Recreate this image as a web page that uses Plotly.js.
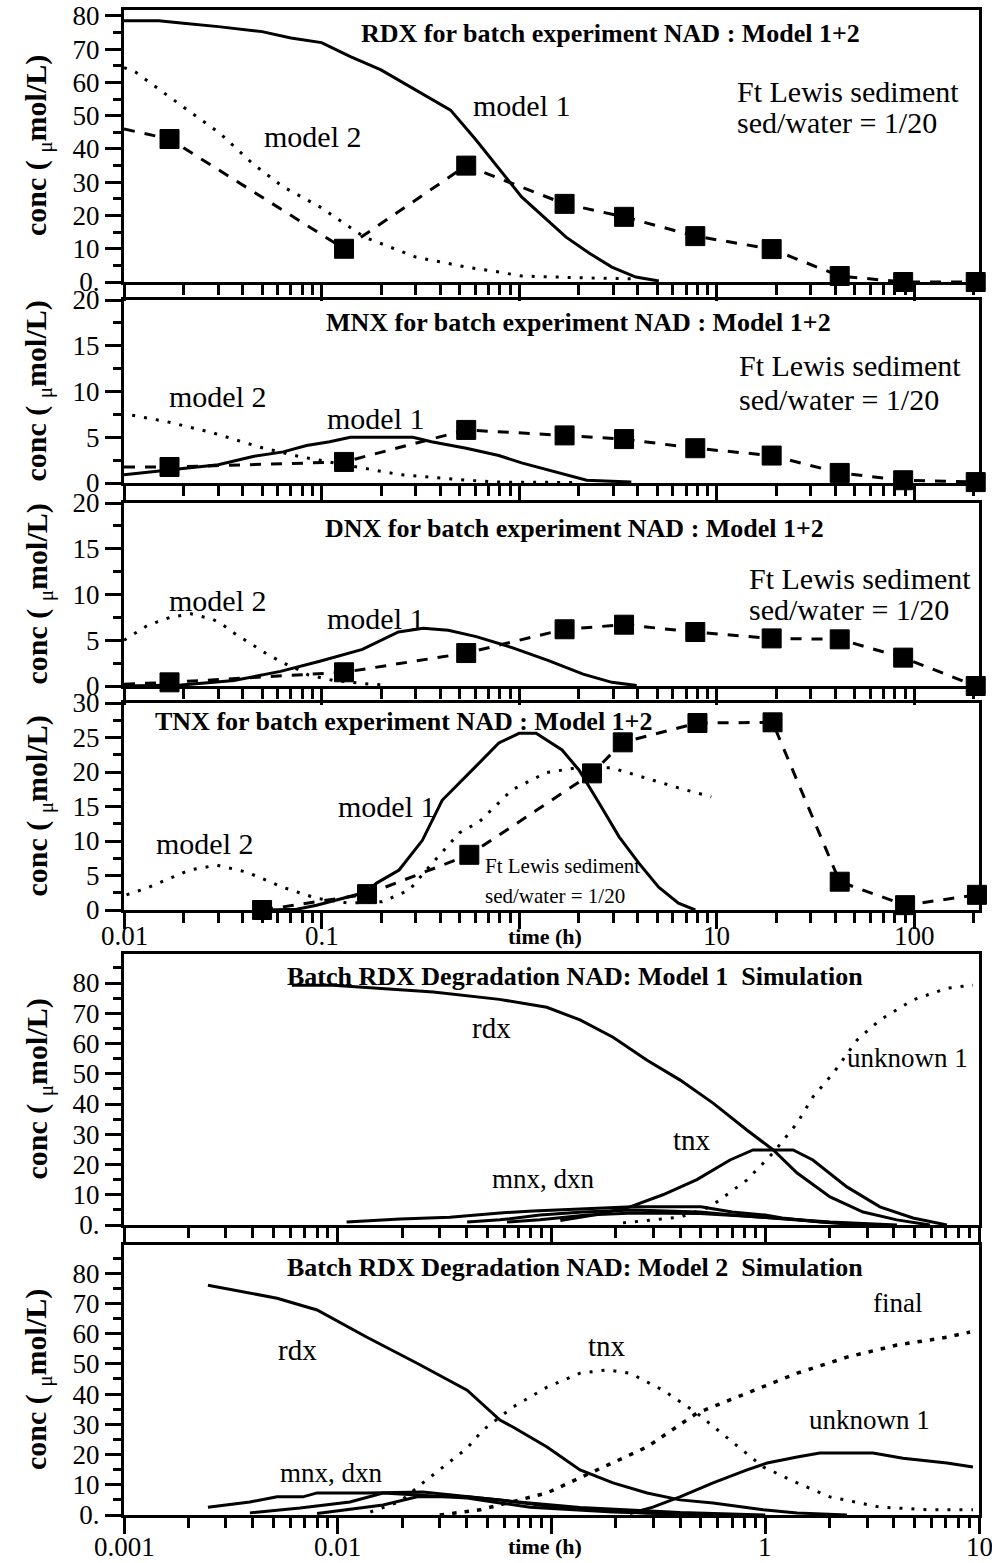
<!DOCTYPE html>
<html><head><meta charset="utf-8">
<script src="https://cdn.plot.ly/plotly-3.0.1.min.js"></script>
<style>body{margin:0;background:#fff}#chart{width:992px;height:1563px}</style>
</head><body><div id="chart"></div>
<script>
// ---------- observed data (squares), times in hours ----------
const obsTime = [0.01, 0.017, 0.13, 0.54, 1.7, 3.4, 7.8, 19, 42, 88, 205];
const rdxObs  = [46, 43, 10, 35, 23.5, 19.6, 13.8, 9.9, 1.8, 0, 0];
const mnxObs  = [1.75, 1.75, 2.3, 5.8, 5.2, 4.8, 3.8, 3.0, 1.1, 0.3, 0.1];
const dnxObs  = [0.2, 0.4, 1.5, 3.6, 6.2, 6.7, 5.9, 5.2, 5.1, 3.1, 0];
const tnxObsTime = [0.05, 0.17, 0.56, 2.34, 3.35, 8.0, 19.2, 42, 90, 208];
const tnxObs     = [0, 2.3, 8.0, 19.8, 24.3, 27.1, 27.2, 4.1, 0.7, 2.2];

// ---------- RDX models ----------
const rdxM1T = [0.01, 0.015, 0.02, 0.03, 0.05, 0.07, 0.1, 0.14, 0.2, 0.3, 0.45, 0.6, 0.77, 1.03, 1.73, 2.26, 2.95, 3.9, 5.1];
const rdxM1  = [78.6, 78.6, 77.8, 76.8, 75.3, 73.4, 72, 67.8, 63.8, 57.7, 51.7, 43, 35, 25.6, 13.5, 8.7, 4.5, 1.5, 0.3];
const rdxM2T = [0.01, 0.0114, 0.0165, 0.0305, 0.045, 0.064, 0.098, 0.165, 0.3, 0.54, 0.79, 1.03, 2.26, 4.0];
const rdxM2  = [64.5, 63.2, 56.2, 44.8, 35.5, 28.6, 22.6, 13.5, 7.5, 4.5, 3.0, 1.8, 1.2, 0.9];
// ---------- MNX models ----------
const mnxM1T = [0.01, 0.017, 0.03, 0.045, 0.064, 0.084, 0.11, 0.14, 0.29, 0.36, 0.54, 0.79, 1.03, 2.2, 3.7];
const mnxM1  = [0.9, 1.4, 2.0, 2.9, 3.4, 4.1, 4.5, 5.0, 5.0, 4.5, 3.8, 3.0, 2.2, 0.3, 0.1];
const mnxM2T = [0.011, 0.0165, 0.028, 0.049, 0.077, 0.17, 0.25, 0.54, 0.8, 2.0];
const mnxM2  = [7.4, 6.7, 5.5, 3.9, 2.9, 1.6, 0.9, 0.3, 0.1, 0.05];
// ---------- DNX models ----------
const dnxM1T = [0.01, 0.0194, 0.036, 0.062, 0.098, 0.161, 0.245, 0.327, 0.438, 0.607, 0.922, 1.4, 2.11, 2.95, 3.94];
const dnxM1  = [0, 0.1, 0.6, 1.6, 2.7, 4.0, 5.9, 6.3, 6.1, 5.4, 4.2, 2.8, 1.3, 0.4, 0.05];
const dnxM2T = [0.01, 0.0115, 0.0131, 0.0171, 0.0218, 0.0281, 0.032, 0.036, 0.0464, 0.052, 0.0642, 0.073, 0.086, 0.115, 0.174, 0.216];
const dnxM2  = [5.0, 5.8, 6.6, 7.5, 7.9, 7.3, 6.6, 5.8, 4.3, 3.6, 2.5, 2.0, 1.2, 0.6, 0.2, 0.1];
// ---------- TNX models ----------
const tnxM1T = [0.0527, 0.0749, 0.0944, 0.169, 0.19, 0.247, 0.324, 0.408, 0.58, 0.79, 1.0, 1.22, 1.65, 2.01, 2.54, 3.21, 4.04, 5.09, 6.41, 7.8];
const tnxM1  = [0, 0.1, 0.7, 2.6, 3.9, 5.8, 10.1, 15.9, 20.3, 24.2, 25.6, 25.6, 23.2, 20.3, 15.5, 10.6, 6.8, 3.3, 1.0, 0];
const tnxM2T = [0.0103, 0.0131, 0.0215, 0.0295, 0.0418, 0.0636, 0.0944, 0.138, 0.203, 0.278, 0.364, 0.5, 0.63, 0.92, 1.37, 1.94, 2.95, 4.37, 6.41, 9.4];
const tnxM2  = [2.2, 3.2, 5.8, 6.5, 5.5, 3.3, 1.7, 1.0, 1.2, 2.9, 6.8, 11.2, 12.8, 17.4, 19.9, 20.6, 20.6, 19.1, 17.7, 16.4];

// ---------- Model 1 simulation ----------
const s1RdxT = [0.0061, 0.0095, 0.028, 0.057, 0.095, 0.136, 0.194, 0.28, 0.4, 0.57, 0.82, 1.09, 1.41, 2.01, 2.87, 4.13, 5.9];
const s1Rdx  = [79.3, 79.3, 77, 74.6, 72, 67.8, 62.1, 54.5, 47.9, 40.3, 31.4, 24.8, 17.2, 9.3, 4.3, 1.7, 0];
const s1TnxT = [0.11, 0.163, 0.233, 0.332, 0.479, 0.684, 0.877, 1.35, 1.67, 2.41, 3.44, 4.91, 7.08];
const s1Tnx  = [1.5, 3.5, 6.0, 10.0, 15.0, 21.5, 24.8, 24.8, 21.5, 12.6, 6.0, 2.3, 0];
const s1UnkT = [0.216, 0.399, 0.552, 0.822, 1.087, 1.41, 1.67, 2.08, 2.69, 3.44, 4.91, 7.08, 9.37];
const s1Unk  = [0.7, 2.6, 6.0, 14.9, 23.8, 33.7, 42.3, 50.2, 61.2, 67.8, 74.4, 78.3, 79.3];
const s1MnxT = [0.011, 0.0196, 0.0335, 0.0574, 0.082, 0.24, 0.5, 0.7, 1.0, 1.2, 1.8, 2.9];
const s1Mnx  = [1.0, 2.0, 2.6, 4.0, 4.6, 6.0, 6.0, 4.3, 3.3, 2.3, 1.0, 0];
const s1DnxT = [0.0403, 0.0574, 0.0884, 0.14, 0.241, 0.495, 0.706, 1.09, 2.01, 3.44];
const s1Dnx  = [1.0, 1.7, 3.3, 4.3, 5.0, 4.3, 3.3, 2.3, 0.8, 0];
const s1OthT = [0.0619, 0.0884, 0.147, 0.241, 0.495, 1.02, 2.01, 4.13];
const s1Oth  = [1.0, 1.7, 3.3, 4.0, 3.8, 2.5, 1.0, 0];

// ---------- Model 2 simulation ----------
const s2RdxT = [0.00247, 0.0052, 0.008, 0.0137, 0.0235, 0.0403, 0.0574, 0.066, 0.0953, 0.136, 0.194, 0.28, 0.399, 0.57, 0.977, 1.41, 2.41];
const s2Rdx  = [76, 71.7, 67.8, 58.8, 50.2, 41.3, 31.4, 29.1, 22.5, 14.9, 10.6, 7.3, 5.0, 4.0, 1.7, 0.7, 0];
const s2TnxT = [0.0142, 0.0196, 0.025, 0.031, 0.0403, 0.0478, 0.0574, 0.066, 0.0953, 0.136, 0.182, 0.233, 0.332, 0.479, 0.684, 0.977, 1.41, 2.01, 3.44, 5.9, 9.37];
const s2Tnx  = [1, 4.5, 10.6, 15.9, 22.1, 28.1, 32.4, 35.7, 42.3, 46.9, 48, 46.9, 41.3, 33.7, 24.8, 15.9, 10.6, 6, 2.6, 1.7, 1.7];
const s2FinT = [0.03, 0.0463, 0.0953, 0.163, 0.28, 0.479, 0.822, 1.41, 2.41, 4.13, 7.08, 9.08];
const s2Fin  = [0, 1.7, 7.3, 14.9, 22.5, 33.7, 40.3, 46.9, 52.2, 56.2, 58.8, 60.5];
const s2UnkT = [0.233, 0.298, 0.399, 0.57, 0.822, 1.02, 1.41, 1.8, 3.19, 4.41, 7.08, 9.37];
const s2Unk  = [0.5, 2.6, 6, 10.6, 14.9, 17.2, 19.2, 20.5, 20.5, 18.8, 17.2, 15.9];
const s2MnxT = [0.00247, 0.00388, 0.0052, 0.00688, 0.008, 0.0137, 0.025, 0.0403, 0.0574, 0.113, 0.28, 0.5];
const s2Mnx  = [2.6, 4.3, 6, 6, 7.3, 7.3, 7.6, 6.0, 5.0, 2.3, 0.7, 0];
const s2DnxT = [0.00388, 0.00666, 0.0114, 0.0163, 0.0235, 0.0403, 0.0574, 0.0794, 0.194, 0.57];
const s2Dnx  = [0.7, 2.3, 4.3, 7.3, 6.6, 5.6, 4.0, 2.6, 1.0, 0];
const s2OthT = [0.008, 0.0163, 0.0235, 0.0403, 0.066, 0.136, 0.4, 1.0];
const s2Oth  = [0.5, 3.3, 6.0, 6.0, 4.5, 2.5, 0.8, 0];

// ---------- text ----------
const panelTitles = [
  'RDX for batch experiment NAD : Model 1+2',
  'MNX for batch experiment NAD : Model 1+2',
  'DNX for batch experiment NAD : Model 1+2',
  'TNX for batch experiment NAD : Model 1+2',
  'Batch RDX Degradation NAD: Model 1  Simulation',
  'Batch RDX Degradation NAD: Model 2  Simulation'
];
const topDecades = [0.01, 0.1, 1, 10, 100];
const topDecadeLabels = ['0.01', '0.1', '', '10', '100'];
const botDecades = [0.001, 0.01, 0.1, 1, 10];
const botDecadeLabels = ['0.001', '0.01', '', '1', '10'];

// ---------- layout geometry ----------
const W = 992, H = 1563, ML = 124, MR = 13, MT = 10, MB = 48;
const PW = W - ML - MR, PH = H - MT - MB;
const xp = px => (px - ML) / PW;
const yp = py => (H - MB - py) / PH;
const FONT = 'Liberation Serif, Times New Roman, serif';
const BLACK = '#000000';

const panels = [
  {top: 10,   bot: 282,  yr: [0, 81.8], yv: [0,10,20,30,40,50,60,70,80], yt: ['0.','10','20','30','40','50','60','70','80'], ym: 5,   top4: true, labY: null},
  {top: 300,  bot: 483,  yr: [0, 20],   yv: [0,5,10,15,20], yt: ['0','5','10','15','20'], ym: 2.5, top4: true, labY: null},
  {top: 503,  bot: 686,  yr: [0, 20],   yv: [0,5,10,15,20], yt: ['0','5','10','15','20'], ym: 2.5, top4: true, labY: null},
  {top: 703,  bot: 910,  yr: [0, 30],   yv: [0,5,10,15,20,25,30], yt: ['0','5','10','15','20','25','30'], ym: 2.5, top4: true, labY: 936},
  {top: 954,  bot: 1225, yr: [0, 89.6], yv: [0,10,20,30,40,50,60,70,80], yt: ['0.','10','20','30','40','50','60','70','80'], ym: 5, top4: false, labY: null},
  {top: 1245, bot: 1515, yr: [0, 89.3], yv: [0,10,20,30,40,50,60,70,80], yt: ['0.','10','20','30','40','50','60','70','80'], ym: 5, top4: false, labY: 1547}
];

function minorVals(decades, maxV) {
  const out = [];
  decades.forEach(d => { for (let k = 2; k <= 9; k++) { if (d * k <= maxV) out.push(d * k); } });
  return out;
}

const layout = {
  width: W, height: H,
  margin: {l: ML, r: MR, t: MT, b: MB, pad: 0},
  paper_bgcolor: '#fff', plot_bgcolor: '#fff',
  showlegend: false,
  font: {family: FONT, color: BLACK, size: 26},
  annotations: []
};

panels.forEach((p, i) => {
  const n = i + 1;
  const xs = n === 1 ? 'xaxis' : 'xaxis' + n;
  const ys = n === 1 ? 'yaxis' : 'yaxis' + n;
  const dec = p.top4 ? topDecades : botDecades;
  const decLab = p.top4 ? topDecadeLabels : botDecadeLabels;
  const xmax = p.top4 ? 213 : 10;
  layout[xs] = {
    type: 'log',
    range: p.top4 ? [-2, Math.log10(213)] : [-3, 1],
    domain: [0, 1],
    anchor: n === 1 ? 'y' : 'y' + n,
    showline: true, linewidth: 3, linecolor: BLACK, mirror: true,
    showgrid: false, zeroline: false,
    ticks: 'outside', ticklen: 16, tickwidth: 3, tickcolor: BLACK,
    tickmode: 'array', tickvals: dec,
    showticklabels: false,
    minor: {tickmode: 'array', tickvals: minorVals(dec, xmax), ticks: 'outside', ticklen: 10, tickwidth: 3, tickcolor: BLACK, showgrid: false}
  };
  layout[ys] = {
    range: p.yr,
    domain: [yp(p.bot), yp(p.top)],
    anchor: n === 1 ? 'x' : 'x' + n,
    showline: true, linewidth: 3, linecolor: BLACK, mirror: true,
    showgrid: false, zeroline: false,
    ticks: 'outside', ticklen: 16, tickwidth: 3, tickcolor: BLACK,
    tickmode: 'array', tickvals: p.yv, ticktext: p.yt,
    tickfont: {family: FONT, size: 27, color: BLACK},
    minor: {dtick: p.ym, tick0: 0, ticks: 'outside', ticklen: 8, tickwidth: 3, tickcolor: BLACK, showgrid: false}
  };
  // x tick labels (drawn just below the tick marks)
  if (p.labY !== null) {
    dec.forEach((v, k) => {
      if (!decLab[k]) return;
      layout.annotations.push({
        xref: n === 1 ? 'x' : 'x' + n, yref: 'paper', x: Math.log10(v), y: yp(p.labY),
        xanchor: 'center', yanchor: 'middle', showarrow: false,
        text: decLab[k], font: {family: FONT, size: 27, color: BLACK}
      });
    });
  }
  // y axis title
  layout.annotations.push({
    xref: 'paper', yref: 'paper', x: xp(38), y: yp((p.top + p.bot) / 2),
    xanchor: 'center', yanchor: 'middle', textangle: -90, showarrow: false,
    text: '<b>conc (</b> <sub>μ</sub><b>mol/L)</b>',
    font: {family: FONT, size: 30, color: BLACK}
  });
});

// panel titles
const titlePos = [[610, 33], [578, 323], [574, 529], [403, 721], [575, 976], [575, 1267]];
panelTitles.forEach((t, i) => {
  layout.annotations.push({
    xref: 'paper', yref: 'paper', x: xp(titlePos[i][0]), y: yp(titlePos[i][1]),
    xanchor: 'center', yanchor: 'middle', showarrow: false,
    text: '<b>' + t + '</b>', font: {family: FONT, size: 26, color: BLACK}
  });
});

function label(text, cx, cy, size, anchor, bold) {
  layout.annotations.push({
    xref: 'paper', yref: 'paper', x: xp(cx), y: yp(cy),
    xanchor: anchor || 'center', yanchor: 'middle', showarrow: false,
    text: bold ? '<b>' + text + '</b>' : text,
    font: {family: FONT, size: size, color: BLACK}
  });
}
// panel 1
label('model 2', 313, 137, 30); label('model 1', 522, 106, 30);
label('Ft Lewis sediment', 735, 91, 30, 'left'); label('sed/water = 1/20', 735, 122, 30, 'left');
// panel 2
label('model 2', 218, 397, 30); label('model 1', 376, 418, 30);
label('Ft Lewis sediment', 737, 366, 30, 'left'); label('sed/water = 1/20', 737, 399, 30, 'left');
// panel 3
label('model 2', 218, 600, 30); label('model 1', 376, 618, 30);
label('Ft Lewis sediment', 747, 579, 30, 'left'); label('sed/water = 1/20', 747, 610, 30, 'left');
// panel 4
label('model 2', 205, 843, 30); label('model 1', 387, 806, 30);
label('Ft Lewis sediment', 483, 866, 21, 'left'); label('sed/water = 1/20', 483, 896, 21, 'left');
label('time (h)', 545, 936, 22, 'center', true);
// panel 5
label('rdx', 491, 1028, 29); label('unknown 1', 907, 1058, 27);
label('tnx', 692, 1140, 29); label('mnx, dxn', 543, 1179, 27);
// panel 6
label('rdx', 297, 1350, 29); label('mnx, dxn', 331, 1473, 27);
label('tnx', 607, 1346, 29); label('final', 897, 1303, 27); label('unknown 1', 869, 1420, 27);
label('time (h)', 545, 1546, 22, 'center', true);

// ---------- traces ----------
const traces = [];
function ax(n) { return n === 1 ? ['x', 'y'] : ['x' + n, 'y' + n]; }
function line(n, x, y, style) {
  const [xa, ya] = ax(n);
  const styles = {
    solid:  {width: 3, dash: 'solid'},
    dot:    {width: 3, dash: '3px,9px'},
    heavy:  {width: 3.5, dash: '4.5px,8px'},
    dash:   {width: 3, dash: '11px,10px'}
  };
  traces.push({type: 'scatter', mode: 'lines', x: x, y: y, xaxis: xa, yaxis: ya,
    line: Object.assign({color: BLACK, shape: 'linear'}, styles[style]), hoverinfo: 'skip', showlegend: false});
}
function obs(n, x, y, firstHidden) {
  const [xa, ya] = ax(n);
  line(n, x, y, 'dash');
  const mx = firstHidden ? x.slice(1) : x;
  const my = firstHidden ? y.slice(1) : y;
  traces.push({type: 'scatter', mode: 'markers', x: mx, y: my, xaxis: xa, yaxis: ya, cliponaxis: false,
    opacity: 1,
    marker: {symbol: 'square', size: 19, color: 'rgb(0,0,0)', opacity: 1, line: {width: 1, color: 'rgb(0,0,0)'}},
    hoverinfo: 'skip', showlegend: false});
}

// panel 1
line(1, rdxM1T, rdxM1, 'solid'); line(1, rdxM2T, rdxM2, 'dot'); obs(1, obsTime, rdxObs, true);
// panel 2
line(2, mnxM1T, mnxM1, 'solid'); line(2, mnxM2T, mnxM2, 'dot'); obs(2, obsTime, mnxObs, true);
// panel 3
line(3, dnxM1T, dnxM1, 'solid'); line(3, dnxM2T, dnxM2, 'dot'); obs(3, obsTime, dnxObs, true);
// panel 4
line(4, tnxM1T, tnxM1, 'solid'); line(4, tnxM2T, tnxM2, 'dot'); obs(4, tnxObsTime, tnxObs, false);
// panel 5
line(5, s1RdxT, s1Rdx, 'solid'); line(5, s1TnxT, s1Tnx, 'solid'); line(5, s1UnkT, s1Unk, 'dot');
line(5, s1MnxT, s1Mnx, 'solid'); line(5, s1DnxT, s1Dnx, 'solid'); line(5, s1OthT, s1Oth, 'solid');
// panel 6
line(6, s2RdxT, s2Rdx, 'solid'); line(6, s2TnxT, s2Tnx, 'dot'); line(6, s2FinT, s2Fin, 'heavy');
line(6, s2UnkT, s2Unk, 'solid'); line(6, s2MnxT, s2Mnx, 'solid'); line(6, s2DnxT, s2Dnx, 'solid'); line(6, s2OthT, s2Oth, 'solid');

Plotly.newPlot('chart', traces, layout, {displayModeBar: false, staticPlot: true});
</script>
</body></html>
